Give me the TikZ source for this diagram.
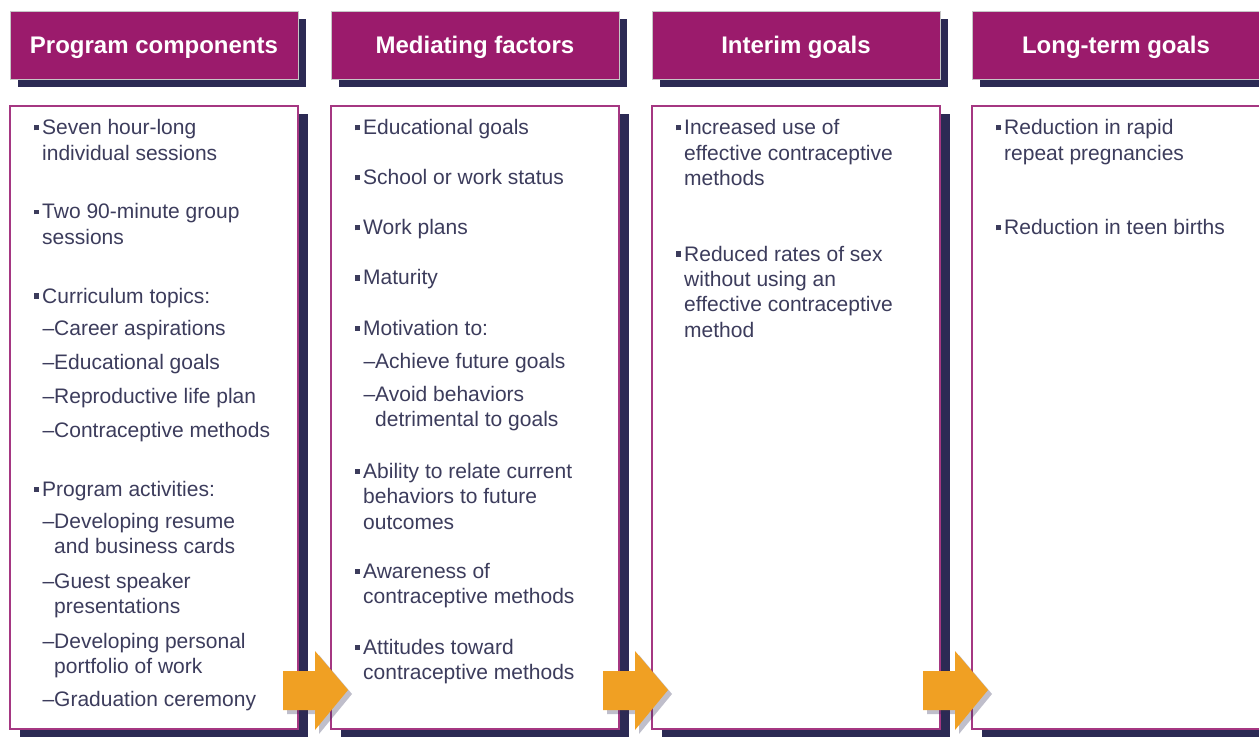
\documentclass[tikz,border=0pt]{standalone}
\usepackage{fontspec}
\setmainfont{Liberation Sans}
\usepackage{xcolor}
\usepackage{tikz}
\usetikzlibrary{shadows}
\definecolor{hdrmagenta}{RGB}{155,27,108}
\definecolor{boxmagenta}{RGB}{165,55,130}
\definecolor{shadenavy}{RGB}{44,42,84}
\definecolor{textnavy}{RGB}{60,60,92}
\definecolor{flowamber}{RGB}{240,160,35}
% square bullet and dash hung left of the item text
\newcommand{\sqbullet}{\llap{\raisebox{4.5pt}{\rule{5pt}{5pt}}\hspace{3pt}}}
\newcommand{\subdash}{\llap{--}}

\begin{document}
\begin{tikzpicture}[
  x=1pt, y=-1pt,
  headbox/.style={rectangle, fill=hdrmagenta, draw=gray!45, line width=0.6pt,
    minimum width=288pt, minimum height=68pt, inner sep=0pt, text=white,
    text depth=0pt, font=\fontsize{24}{28}\selectfont\bfseries,
    general shadow={fill=shadenavy, shadow xshift=8pt, shadow yshift=-8pt}},
  bodybox/.style={rectangle, fill=white, draw=boxmagenta, line width=1.2pt,
    minimum width=288pt, minimum height=623pt, inner sep=0pt,
    general shadow={fill=shadenavy, shadow xshift=10pt, shadow yshift=-8pt}},
  % items sit on the baseline of their last line
  item/.style={anchor=base west, align=left, inner sep=0pt, text=textnavy,
    font=\fontsize{21}{25.5}\selectfont},
  flowarrow/.style={fill=flowamber,
    drop shadow={shadow xshift=4pt, shadow yshift=-4pt, fill=shadenavy, opacity=0.3}},
]
  \useasboundingbox (0,0) rectangle (1259,738);
  \clip (0,0) rectangle (1259,738);

  % Column heads
  \node[headbox] (h1) at (154,45) {Program components};
  \node[headbox] (h2) at (475,45) {Mediating factors};
  \node[headbox] (h3) at (796,45) {Interim goals};
  \node[headbox] (h4) at (1116,45) {Long-term goals};

  % Column bodies
  \node[bodybox] (b1) at (154,417.5) {};
  \node[bodybox] (b2) at (475,417.5) {};
  \node[bodybox] (b3) at (796,417.5) {};
  \node[bodybox] (b4) at (1116,417.5) {};

  % Program components
  \node[item] (pc1) at (42,160.5) {\sqbullet Seven hour-long\\individual sessions};
  \node[item] (pc2) at (42,244.5) {\sqbullet Two 90-minute group\\sessions};
  \node[item] (pc3) at (42,303) {\sqbullet Curriculum topics:};
  \node[item] (pc3a) at (54,335) {\subdash Career aspirations};
  \node[item] (pc3b) at (54,369) {\subdash Educational goals};
  \node[item] (pc3c) at (54,403) {\subdash Reproductive life plan};
  \node[item] (pc3d) at (54,437) {\subdash Contraceptive methods};
  \node[item] (pc4) at (42,496) {\sqbullet Program activities:};
  \node[item] (pc4a) at (54,553.5) {\subdash Developing resume\\and business cards};
  \node[item] (pc4b) at (54,613.5) {\subdash Guest speaker\\presentations};
  \node[item] (pc4c) at (54,673.5) {\subdash Developing personal\\portfolio of work};
  \node[item] (pc4d) at (54,706) {\subdash Graduation ceremony};

  % Mediating factors
  \node[item] (mf1) at (363,135) {\sqbullet Educational goals};
  \node[item] (mf2) at (363,185) {\sqbullet School or work status};
  \node[item] (mf3) at (363,235) {\sqbullet Work plans};
  \node[item] (mf4) at (363,285) {\sqbullet Maturity};
  \node[item] (mf5) at (363,335) {\sqbullet Motivation to:};
  \node[item] (mf5a) at (375,368) {\subdash Achieve future goals};
  \node[item] (mf5b) at (375,426.5) {\subdash Avoid behaviors\\detrimental to goals};
  \node[item] (mf6) at (363,529) {\sqbullet Ability to relate current\\behaviors to future\\outcomes};
  \node[item] (mf7) at (363,603.5) {\sqbullet Awareness of\\contraceptive methods};
  \node[item] (mf8) at (363,679.5) {\sqbullet Attitudes toward\\contraceptive methods};

  % Interim goals
  \node[item] (ig1) at (684,186) {\sqbullet Increased use of\\effective contraceptive\\methods};
  \node[item] (ig2) at (684,337.5) {\sqbullet Reduced rates of sex\\without using an\\effective contraceptive\\method};

  % Long-term goals
  \node[item] (lg1) at (1004,160.5) {\sqbullet Reduction in rapid\\repeat pregnancies};
  \node[item] (lg2) at (1004,235) {\sqbullet Reduction in teen births};

  % Block arrows between columns
  \fill[flowarrow] (283,671) -- (315,671) -- (315,651) -- (348,690) -- (315,730) -- (315,710) -- (283,710) -- cycle;
  \fill[flowarrow] (603,671) -- (635,671) -- (635,651) -- (668,690) -- (635,730) -- (635,710) -- (603,710) -- cycle;
  \fill[flowarrow] (923,671) -- (955,671) -- (955,651) -- (988,690) -- (955,730) -- (955,710) -- (923,710) -- cycle;
\end{tikzpicture}
\end{document}
